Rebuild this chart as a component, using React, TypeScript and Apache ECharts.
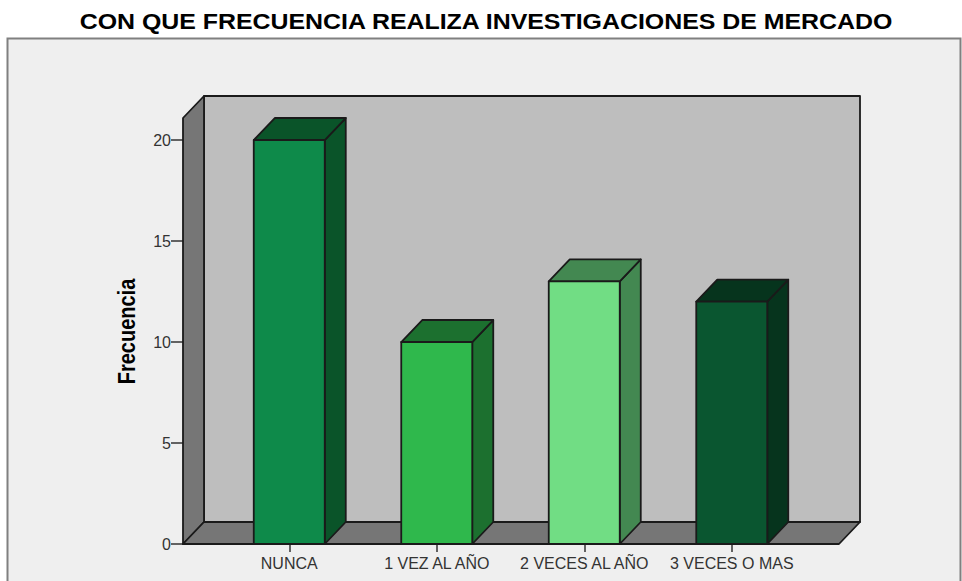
import React, { useEffect, useRef } from "react";
import * as echarts from "echarts";

const categories = ["NUNCA", "1 VEZ AL AÑO", "2 VECES AL AÑO", "3 VECES O MAS"];
const frequencies = [20, 10, 13, 12];
const frontColors = ["#0e8a4a", "#2fb84c", "#71dd84", "#0a5630"];
const sideColors = ["#0a5429", "#1c702f", "#438851", "#06341d"];
const yTicks = [0, 5, 10, 15, 20];
const yMax = 21.09;
const titleText = "CON QUE FRECUENCIA REALIZA INVESTIGACIONES DE MERCADO";
const yName = "Frecuencia";

const DEPTH_X = 21;
const DEPTH_Y = 22;
const BAR_W = 71;
const LEFT_PAD = 32.5;
const RIGHT_PAD = 33.5;
const EDGE = "#1a1a1a";

const edge = { stroke: EDGE, lineWidth: 1.8, lineJoin: "round" };

function poly(points: number[][], fill: string) {
  return { type: "polygon", shape: { points }, style: { fill, ...edge } };
}

function renderWalls(_: any, api: any) {
  const band = api.size([1, 0])[0];
  const [cx, y0] = api.coord([0, 0]);
  const yT = api.coord([0, yMax])[1];
  const l = cx - band / 2 - LEFT_PAD;
  const r = cx + 3.5 * band + RIGHT_PAD;
  const d = DEPTH_X;
  const h = DEPTH_Y;
  return {
    type: "group",
    children: [
      poly([[l + d, yT - h + 0], [r + d, yT - h], [r + d, y0 - h], [l + d, y0 - h]], "#bebebe"),
      poly([[l, yT], [l + d, yT - h], [l + d, y0 - h], [l, y0]], "#767676"),
      poly([[l, y0], [l + d, y0 - h], [r + d, y0 - h], [r, y0]], "#767676"),
    ],
  };
}

function renderBar(params: any, api: any) {
  const i = params.dataIndex;
  const [cx, yTop] = api.coord([api.value(0), api.value(1)]);
  const yBase = api.coord([api.value(0), 0])[1];
  const a = cx - BAR_W / 2;
  const b = cx + BAR_W / 2;
  const d = DEPTH_X;
  const h = DEPTH_Y;
  return {
    type: "group",
    children: [
      poly([[b, yTop], [b + d, yTop - h], [b + d, yBase - h], [b, yBase]], sideColors[i]),
      poly([[a, yTop], [a + d, yTop - h], [b + d, yTop - h], [b, yTop]], sideColors[i]),
      poly([[a, yTop], [b, yTop], [b, yBase], [a, yBase]], frontColors[i]),
    ],
  };
}

export default function App() {
  const ref = useRef<HTMLDivElement>(null);
  useEffect(() => {
    document.body.style.margin = "0";
    const chart = echarts.init(ref.current!, null, { renderer: "svg" });
    chart.setOption({
      animation: false,
      backgroundColor: "#ffffff",
      graphic: [
        {
          type: "rect",
          z: -10,
          silent: true,
          shape: { x: 7.5, y: 38.5, width: 953, height: 560 },
          style: { fill: "#efefef", stroke: "#808080", lineWidth: 2 },
        },
        {
          type: "text",
          x: 486,
          y: 21.5,
          scaleX: 1.107,
          style: {
            text: titleText,
            align: "center",
            verticalAlign: "middle",
            font: 'bold 22.5px "Liberation Sans"',
            fill: "#000000",
          },
        },
        {
          type: "text",
          x: 127,
          y: 331.5,
          rotation: Math.PI / 2,
          scaleY: 1.18,
          style: {
            text: yName,
            align: "center",
            verticalAlign: "middle",
            font: 'bold 20px "Liberation Sans"',
            fill: "#000000",
          },
        },
      ],
      grid: { left: 215.5, width: 590, top: 118, height: 426 },
      xAxis: {
        type: "category",
        data: categories,
        boundaryGap: true,
        axisLine: { show: false },
        axisTick: { show: true, alignWithLabel: true, length: 8, lineStyle: { color: "#333333", width: 1.5 } },
        axisLabel: {
          interval: 0,
          margin: 11,
          fontFamily: "Liberation Sans",
          fontSize: 16,
          color: "#333333",
        },
      },
      yAxis: {
        type: "value",
        min: 0,
        max: yMax,
        offset: LEFT_PAD,
        splitLine: { show: false },
        axisLine: { show: false },
        axisTick: { show: true, length: 12, customValues: yTicks, lineStyle: { color: "#333333", width: 1.5 } },
        axisLabel: {
          customValues: yTicks,
          margin: 12,
          padding: [4, 0, 0, 0],
          fontFamily: "Liberation Sans",
          fontSize: 16,
          color: "#333333",
        },
      },
      series: [
        {
          type: "custom",
          name: "walls",
          silent: true,
          clip: false,
          z: 1,
          renderItem: renderWalls,
          data: [[0, 0]],
          encode: { x: 0, y: 1 },
        },
        {
          type: "custom",
          name: "Frecuencia",
          clip: false,
          z: 2,
          renderItem: renderBar,
          data: frequencies.map((v, i) => [i, v]),
          encode: { x: 0, y: 1 },
        },
      ],
    });
    return () => chart.dispose();
  }, []);
  return <div ref={ref} style={{ width: 962, height: 581 }} />;
}
